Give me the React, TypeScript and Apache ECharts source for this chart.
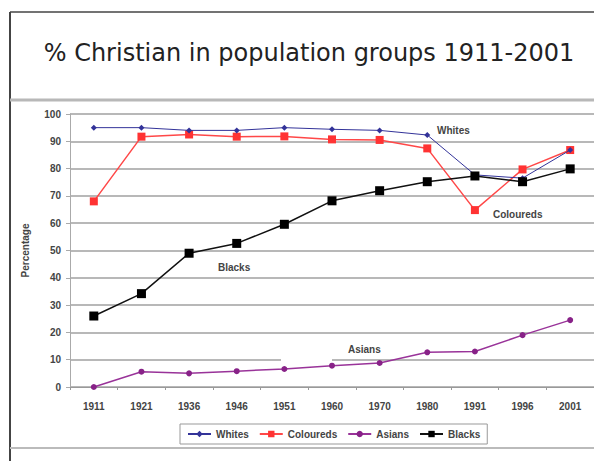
import React, { useEffect, useRef } from "react";
import * as echarts from "echarts";

const years = ["1911", "1921", "1936", "1946", "1951", "1960", "1970", "1980", "1991", "1996", "2001"];
const whites = [95, 95, 94, 94, 95, 94.4, 94, 92.3, 77.7, 76.5, 86.8];
const coloureds = [68, 91.7, 92.5, 91.7, 91.8, 90.7, 90.5, 87.4, 64.8, 79.7, 86.8];
const asians = [0, 5.6, 5, 5.8, 6.6, 7.8, 8.8, 12.7, 13, 19, 24.5];
const blacks = [26, 34.2, 49, 52.6, 59.6, 68.2, 71.9, 75.2, 77.3, 75.2, 79.9];

const FONT = "Arial, 'Liberation Sans', sans-serif";
const labelFont = { fontFamily: FONT, fontWeight: "bold" as const, fontSize: 10, fill: "#444" };
const smallText = { fontSize: 10, fontWeight: "bold" as const, color: "#444", fontFamily: FONT };

export default function App() {
  const ref = useRef<HTMLDivElement>(null);
  useEffect(() => {
    if (!ref.current) return;
    const chart = echarts.init(ref.current, null, { renderer: "svg" });
    chart.setOption({
      animation: false,
      backgroundColor: "#ffffff",
      title: {
        text: "% Christian in population groups 1911-2001",
        left: 304,
        textAlign: "center",
        top: 36,
        textStyle: {
          fontFamily: "'DejaVu Sans', sans-serif",
          fontWeight: "normal",
          fontSize: 24,
          color: "#222",
        },
      },
      grid: { left: 70, right: -8, top: 114, bottom: 74 },
      xAxis: {
        type: "category",
        data: years,
        boundaryGap: true,
        axisLine: { lineStyle: { color: "#999", width: 1 } },
        axisTick: { show: true, length: 3, lineStyle: { color: "#999" } },
        axisLabel: { margin: 14, ...smallText },
      },
      yAxis: {
        type: "value",
        min: 0,
        max: 100,
        interval: 10,
        name: "Percentage",
        nameLocation: "middle",
        nameGap: 40,
        nameRotate: 90,
        nameTextStyle: smallText,
        axisLine: { show: true, lineStyle: { color: "#aaa", width: 1 } },
        axisTick: { show: true, length: 4, lineStyle: { color: "#aaa" } },
        axisLabel: { margin: 9, ...smallText },
        splitLine: { lineStyle: { color: "#a0a0a0", width: 1.5 } },
      },
      legend: {
        left: 180,
        top: 424,
        orient: "horizontal",
        borderColor: "#999",
        borderWidth: 1,
        padding: [5, 7],
        itemGap: 10,
        itemWidth: 23,
        itemHeight: 8,
        textStyle: smallText,
        data: ["Whites", "Coloureds", "Asians", "Blacks"],
      },
      series: [
        {
          name: "Whites",
          type: "line",
          data: whites,
          color: "#333399",
          symbol: "diamond",
          symbolSize: 6,
          lineStyle: { width: 1, color: "#333399" },
          itemStyle: { color: "#333399" },
          z: 4,
        },
        {
          name: "Coloureds",
          type: "line",
          data: coloureds,
          color: "#ff3b3b",
          symbol: "rect",
          symbolSize: 8,
          lineStyle: { width: 1.5, color: "#ff4848" },
          itemStyle: { color: "#ff3333" },
          z: 3,
        },
        {
          name: "Asians",
          type: "line",
          data: asians,
          color: "#993399",
          symbol: "circle",
          symbolSize: 6,
          lineStyle: { width: 1.5, color: "#993399" },
          itemStyle: { color: "#882288" },
          z: 3,
        },
        {
          name: "Blacks",
          type: "line",
          data: blacks,
          color: "#000",
          symbol: "rect",
          symbolSize: 9,
          lineStyle: { width: 1.5, color: "#111" },
          itemStyle: { color: "#000" },
          z: 5,
        },
      ],
      graphic: [
        // frame around the chart
        { type: "line", shape: { x1: 10, y1: 12, x2: 10, y2: 461 }, style: { stroke: "#444", lineWidth: 2 }, z: 10 },
        { type: "line", shape: { x1: 10, y1: 12, x2: 594, y2: 12 }, style: { stroke: "#444", lineWidth: 1.5 }, z: 10 },
        { type: "line", shape: { x1: 10, y1: 100, x2: 594, y2: 100 }, style: { stroke: "#b8b8b8", lineWidth: 3 }, z: 10 },
        { type: "line", shape: { x1: 10, y1: 448, x2: 594, y2: 448 }, style: { stroke: "#bbb", lineWidth: 2 }, z: 10 },
        // label background near the Asians annotation
        { type: "rect", shape: { x: 281, y: 352, width: 51, height: 10 }, style: { fill: "#fff" }, z: 1 },
        // series annotations
        { type: "text", x: 437, y: 125, style: { text: "Whites", ...labelFont }, z: 10 },
        { type: "text", x: 493, y: 209, style: { text: "Coloureds", ...labelFont }, z: 10 },
        { type: "text", x: 218, y: 262, style: { text: "Blacks", ...labelFont }, z: 10 },
        { type: "text", x: 348, y: 344, style: { text: "Asians", ...labelFont }, z: 10 },
      ],
    });
    return () => chart.dispose();
  }, []);
  return (
    <div
      ref={ref}
      style={{ position: "fixed", left: 0, top: 0, width: 594, height: 461, overflow: "hidden" }}
    />
  );
}
